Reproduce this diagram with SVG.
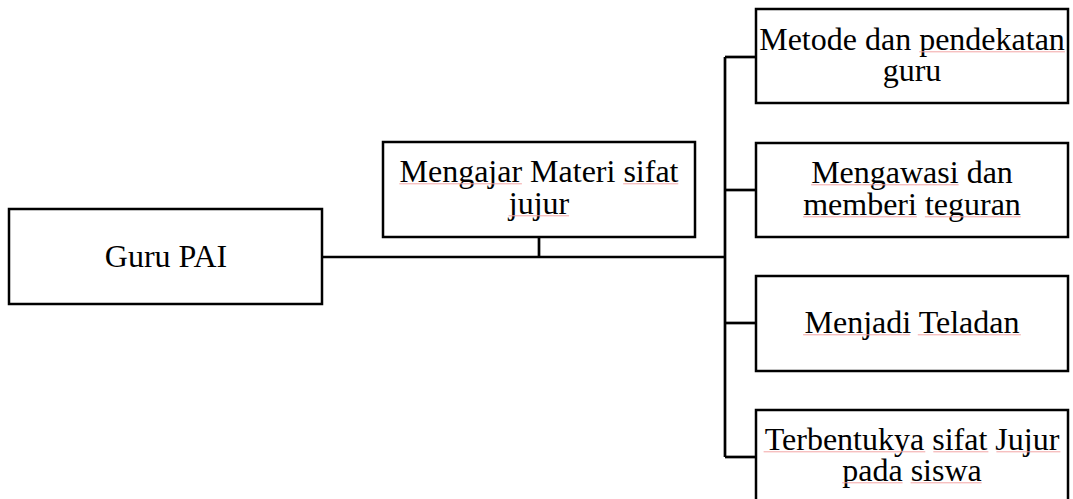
<svg xmlns="http://www.w3.org/2000/svg" width="1073" height="499" viewBox="0 0 1073 499">
<style>
.box{fill:#fff;stroke:#000;stroke-width:2.5}
.t{font-family:"Liberation Serif","Times New Roman",serif;font-size:32px;fill:#000;text-anchor:middle}
.sq{stroke:#f3a6a6;stroke-width:1;fill:none}
.c{stroke:#000;fill:none;stroke-width:2.7}
</style>
<rect width="1073" height="499" fill="#fff"/>
<g id="connectors">
<path class="c" d="M322 257 H725"/>
<path class="c" d="M539 237 V257"/>
<path class="c" d="M725 57 V457"/>
<path class="c" d="M725 57 H756"/>
<path class="c" d="M725 190 H756"/>
<path class="c" d="M725 323 H756"/>
<path class="c" d="M725 457 H756"/>
</g>
<g id="guru-pai">
<rect class="box" x="9" y="209" width="313" height="95"/>
<text class="t" x="166" y="267">Guru PAI</text>
</g>
<g id="mengajar">
<rect class="box" x="383" y="142" width="312" height="95"/>
<text class="t" x="539" y="182">Mengajar Materi sifat</text>
<text class="t" x="539" y="214">jujur</text>
<path class="sq" d="M399.3 183.8 H521.9 M623.2 183.8 H678.3 M508.6 215.8 H569"/>
</g>
<g id="metode">
<rect class="box" x="756" y="9" width="312" height="94"/>
<text class="t" x="912" y="50">Metode dan pendekatan</text>
<text class="t" x="912" y="81">guru</text>
<path class="sq" d="M919.2 51.8 H1064.9"/>
</g>
<g id="mengawasi">
<rect class="box" x="756" y="143" width="312" height="94"/>
<text class="t" x="912" y="183">Mengawasi dan</text>
<text class="t" x="912" y="215">memberi teguran</text>
<path class="sq" d="M811.1 184.8 H958.6 M803.1 216.8 H916.9 M924.9 216.8 H1020.9"/>
</g>
<g id="teladan">
<rect class="box" x="756" y="276" width="312" height="95"/>
<text class="t" x="912" y="333">Menjadi Teladan</text>
<path class="sq" d="M803.1 334.8 H909.8 M917.8 334.8 H1020.9"/>
</g>
<g id="terbentuk">
<rect class="box" x="756" y="410" width="312" height="100"/>
<text class="t" x="912" y="450">Terbentukya sifat Jujur</text>
<text class="t" x="912" y="481">pada siswa</text>
<path class="sq" d="M763.6 451.8 H925.3 M933.3 451.8 H988.4 M996.4 451.8 H1060.4 M842.2 482.8 H902.6 M910.6 482.8 H981.7"/>
</g>
</svg>
